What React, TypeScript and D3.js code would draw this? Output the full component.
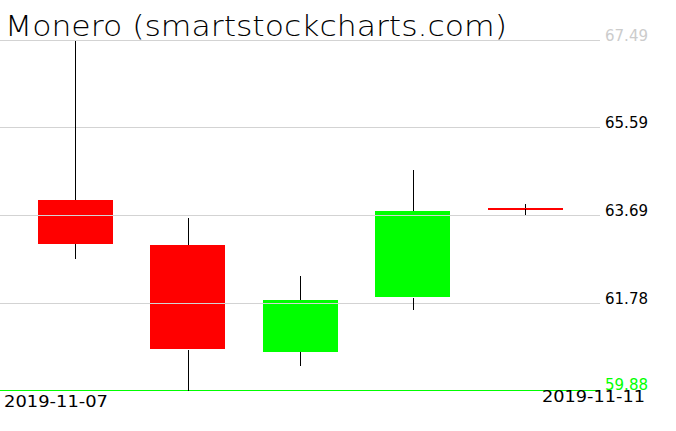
import React from "react";
import * as d3 from "d3";

const dates = ["2019-11-07", "2019-11-08", "2019-11-09", "2019-11-10", "2019-11-11"];
const opens = [64.02, 63.04, 60.72, 61.9, 63.84];
const highs = [67.49, 63.62, 62.37, 64.67, 63.94];
const lows = [62.75, 59.88, 60.42, 61.64, 63.7];
const closes = [63.07, 60.77, 61.85, 63.78, 63.82];
const tickValues = [59.88, 61.78, 63.69, 65.59, 67.49];
const title = "Monero (smartstockcharts.com)";

const W = 676;
const H = 431;

export default function App() {
  const y = d3.scaleLinear().domain([59.88, 67.49]).range([390.5, 40.5]);
  const x = d3.scaleBand<string>().domain(dates).range([19, 581.5]).padding(0);
  const bodyW = x.bandwidth() * (2 / 3);
  const font = "'DejaVu Sans', sans-serif";

  return (
    <svg
      width={W}
      height={H}
      style={{ position: "absolute", left: 0, top: 0, background: "#fff" }}
      shapeRendering="crispEdges"
    >
      <rect x={0} y={0} width={W} height={H} fill="#fff" />
      {/* bodies */}
      {dates.map((d, i) => {
        const cx = (x(d) as number) + x.bandwidth() / 2;
        const top = y(Math.max(opens[i], closes[i]));
        const bot = y(Math.min(opens[i], closes[i]));
        const h = Math.max(2, bot - top);
        const up = closes[i] >= opens[i];
        return (
          <rect
            key={"b" + d}
            x={Math.round(cx - bodyW / 2)}
            y={Math.round(top)}
            width={Math.round(bodyW)}
            height={Math.round(h)}
            fill={up ? "#00ff00" : "#ff0000"}
          />
        );
      })}
      {/* grid */}
      {tickValues.map((t, i) => {
        const yy = Math.floor(y(t)) + 0.5;
        const isBottom = i === 0;
        const isTop = i === tickValues.length - 1;
        return (
          <g key={"g" + t}>
            <line
              x1={0}
              x2={600}
              y1={yy}
              y2={yy}
              stroke={isBottom ? "#00ff00" : "#d3d3d3"}
              strokeWidth={isBottom ? 1.5 : 1}
            />
            <text
              x={605}
              y={yy + 0.5 - (isBottom ? 1 : 0)}
              fontFamily={font}
              fontSize={15}
              fill={isBottom ? "#00ff00" : isTop ? "#cccccc" : "#000"}
              textLength={43}
              lengthAdjust="spacingAndGlyphs"
            >
              {t.toFixed(2)}
            </text>
          </g>
        );
      })}
      {/* wicks: upper and lower shadows, outside the body */}
      {dates.map((d, i) => {
        const cx = Math.round((x(d) as number) + x.bandwidth() / 2) + 0.5;
        const top = y(Math.max(opens[i], closes[i]));
        const bot = y(Math.min(opens[i], closes[i]));
        return (
          <g key={"w" + d}>
            <line
              x1={cx}
              x2={cx}
              y1={Math.round(y(highs[i]))}
              y2={Math.round(top)}
              stroke="#000"
              strokeWidth={1}
            />
            <line
              x1={cx}
              x2={cx}
              y1={Math.round(bot)}
              y2={Math.round(y(lows[i]))}
              stroke="#000"
              strokeWidth={1}
            />
          </g>
        );
      })}
      <text
        x={5}
        y={36}
        fontFamily={font}
        fontWeight={200}
        fontSize={28}
        fill="#000"
        textLength={502}
        lengthAdjust="spacingAndGlyphs"
      >
        {title}
      </text>
      <text
        x={4}
        y={407}
        fontFamily={font}
        fontSize={15}
        fill="#000"
        textLength={104}
        lengthAdjust="spacingAndGlyphs"
      >
        {dates[0]}
      </text>
      <text
        x={542}
        y={402}
        fontFamily={font}
        fontSize={15}
        fill="#000"
        textLength={103}
        lengthAdjust="spacingAndGlyphs"
      >
        {dates[dates.length - 1]}
      </text>
    </svg>
  );
}
